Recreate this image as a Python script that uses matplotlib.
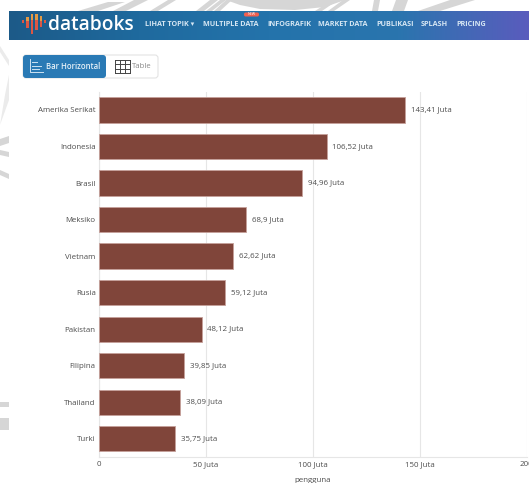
import numpy as np
import matplotlib
matplotlib.use("Agg")
from matplotlib import pyplot as plt
from matplotlib.colors import LinearSegmentedColormap
from matplotlib.patches import FancyBboxPatch, Rectangle, Polygon

negara = ["Amerika Serikat", "Indonesia", "Brasil", "Meksiko", "Vietnam",
          "Rusia", "Pakistan", "Filipina", "Thailand", "Turki"]
pengguna = [143.41, 106.52, 94.96, 68.9, 62.62, 59.12, 48.12, 39.85, 38.09, 35.75]
label_nilai = ["143,41 Juta", "106,52 Juta", "94,96 Juta", "68,9 Juta", "62,62 Juta",
               "59,12 Juta", "48,12 Juta", "39,85 Juta", "38,09 Juta", "35,75 Juta"]
tick_nilai = [0, 50, 100, 150, 200]
tick_label = ["0", "50 Juta", "100 Juta", "150 Juta", "200"]
menu = ["LIHAT TOPIK ▾", "MULTIPLE DATA", "INFOGRAFIK", "MARKET DATA", "PUBLIKASI", "SPLASH", "PRICING"]
menu_x = [145, 203, 267, 318, 376, 421, 456.5]

plt.rcParams['font.family'] = ['Open Sans', 'DejaVu Sans']
W, H = 529, 483
fig = plt.figure(figsize=(W / 100, H / 100), dpi=100, facecolor="white")

# page layer in pixel coordinates
bg = fig.add_axes([0, 0, 1, 1])
bg.set_xlim(0, W)
bg.set_ylim(H, 0)
bg.axis("off")

# grey background emblem behind the panel
atas = [[(78, 11), (98, 11), (125, 2), (108, 2)], [(113, 11), (126, 11), (148, 0), (134, 0)],
        [(150, 11), (158, 11), (176, 0), (168, 0)], [(196, 11), (204, 11), (218, 0), (210, 0)],
        [(206, 11), (212, 11), (226, 0), (220, 0)], [(214, 11), (220, 11), (232, 0), (226, 0)],
        [(226, 0), (345, 0), (325, 7), (295, 10), (260, 9), (240, 5)],
        [(315, 11), (322, 11), (338, 0), (332, 0)], [(328, 11), (334, 11), (350, 0), (343, 0)],
        [(372, 11), (378, 11), (380, 0), (374, 0)], [(392, 11), (404, 11), (408, 0), (396, 0)],
        [(418, 11), (440, 11), (475, 0), (450, 0)]]
kiri_muda = [[(0, 46), (9, 60), (9, 66), (0, 52)], [(5, 95), (9, 75), (9, 100), (0, 125)]]
kiri = [[(0, 139), (9, 136), (9, 143), (0, 146)], [(0, 150), (9, 152), (9, 157), (0, 155)],
        [(0, 170), (9, 174), (9, 179), (0, 175)], [(0, 402), (9, 402), (9, 407), (0, 407)],
        [(0, 418), (9, 418), (9, 430), (0, 430)]]
for p in atas + kiri:
    bg.add_patch(Polygon(p, closed=True, fc="#d6d6d6", ec="none", zorder=1))
for p in kiri_muda:
    bg.add_patch(Polygon(p, closed=True, fc="#ebebeb", ec="none", zorder=1))

# navbar gradient
warna_nav = LinearSegmentedColormap.from_list("nav", ["#1c5a88", "#1f6a9e", "#2473ab", "#2a75ae", "#5a5cbd"])
bg.imshow(np.linspace(0, 1, 256).reshape(1, -1), cmap=warna_nav, aspect="auto",
          extent=(9, W, 40, 11), zorder=2)
bg.set_xlim(0, W)
bg.set_ylim(H, 0)

# logo bars: x, orange top, orange/red split, red bottom
logo = [(23, 20, 20, 23), (27.5, 17, 21, 28), (32, 14, 20, 34),
        (36.5, 14, 20, 30), (41, 16, 21, 27), (45, 20, 20, 23)]
for x, y0, y1, y2 in logo:
    bg.add_patch(Rectangle((x - 1.3, y0), 2.6, y1 - y0, fc="#e39a45", ec="none", zorder=3))
    bg.add_patch(Rectangle((x - 1.3, y1), 2.6, y2 - y1, fc="#dc5744", ec="none", zorder=3))
bg.text(48, 24.5, "databoks", color="white", fontsize=13.8, fontweight="semibold",
        va="center", ha="left", zorder=3, family="Open Sans")
for t, x in zip(menu, menu_x):
    bg.text(x, 24.5, t, color="#d5e6f3", fontsize=5.25, fontweight="bold", va="center", ha="left", zorder=3)
bg.add_patch(FancyBboxPatch((244, 12.5), 15, 4, boxstyle="round,pad=0,rounding_size=1.7",
                            fc="#f0604f", ec="none", zorder=3))
bg.text(251.5, 14.4, "NEW", color="white", fontsize=2.6, ha="center", va="center", zorder=4)

# chart type toggle
bg.add_patch(FancyBboxPatch((23, 55), 135, 23, boxstyle="round,pad=0,rounding_size=3",
                            fc="white", ec="#e3e3e3", lw=0.8, zorder=2))
bg.add_patch(FancyBboxPatch((23, 55), 83, 23, boxstyle="round,pad=0,rounding_size=3",
                            fc="#2a7ab5", ec="none", zorder=3))
bg.plot([30, 30, 43], [59, 72, 72], color="#cfe3f2", lw=0.7, zorder=4)
for y, x1 in zip([62, 65.5, 69], [37, 41, 39]):
    bg.plot([32, x1], [y, y], color="#cfe3f2", lw=0.7, zorder=4)
bg.text(46, 66.5, "Bar Horizontal", color="#e6f1f8", fontsize=5.6, fontweight="semibold",
        va="center", ha="left", zorder=4)
for x in [115, 120, 125, 130]:
    bg.plot([x, x], [60, 73], color="#444444", lw=0.7, zorder=4)
for y in [60, 64.3, 68.6, 73]:
    bg.plot([115, 130], [y, y], color="#444444", lw=0.7, zorder=4)
bg.text(132, 66.5, "Table", color="#888888", fontsize=5.6, va="center", ha="left", zorder=4)

# bar chart
ax = fig.add_axes([98.5 / W, 1 - 457 / H, 428.1 / W, 365.3 / H])
ax.patch.set_alpha(0)
y = np.arange(len(negara))
ax.barh(y, pengguna, height=0.69, color="#80453a", edgecolor="#c5a09a", linewidth=0.6, zorder=3)
ax.set_xlim(0, 200)
ax.set_ylim(len(negara) - 0.5, -0.5)
ax.set_yticks(y, negara)
ax.set_xticks(tick_nilai, tick_label)
for s in ["top", "right"]:
    ax.spines[s].set_visible(False)
ax.spines["left"].set_color("#e6e6e6")
ax.spines["bottom"].set_color("#e6e6e6")
ax.grid(axis="x", color="#e6e6e6", lw=0.8, zorder=0)
ax.tick_params(axis="both", length=0, labelsize=5.7, labelcolor="#4d4d4d")
ax.tick_params(axis="y", pad=2)
ax.tick_params(axis="x", pad=3)
for yi, v, t in zip(y, pengguna, label_nilai):
    ax.annotate(t, (v, yi), xytext=(4.3, 0), textcoords="offset points", fontsize=5.7,
                color="#4d4d4d", va="center", ha="left", zorder=4)
ax.set_xlabel("pengguna", fontsize=5.7, color="#4d4d4d", labelpad=6.5)

fig.savefig("out.png", dpi=100)
